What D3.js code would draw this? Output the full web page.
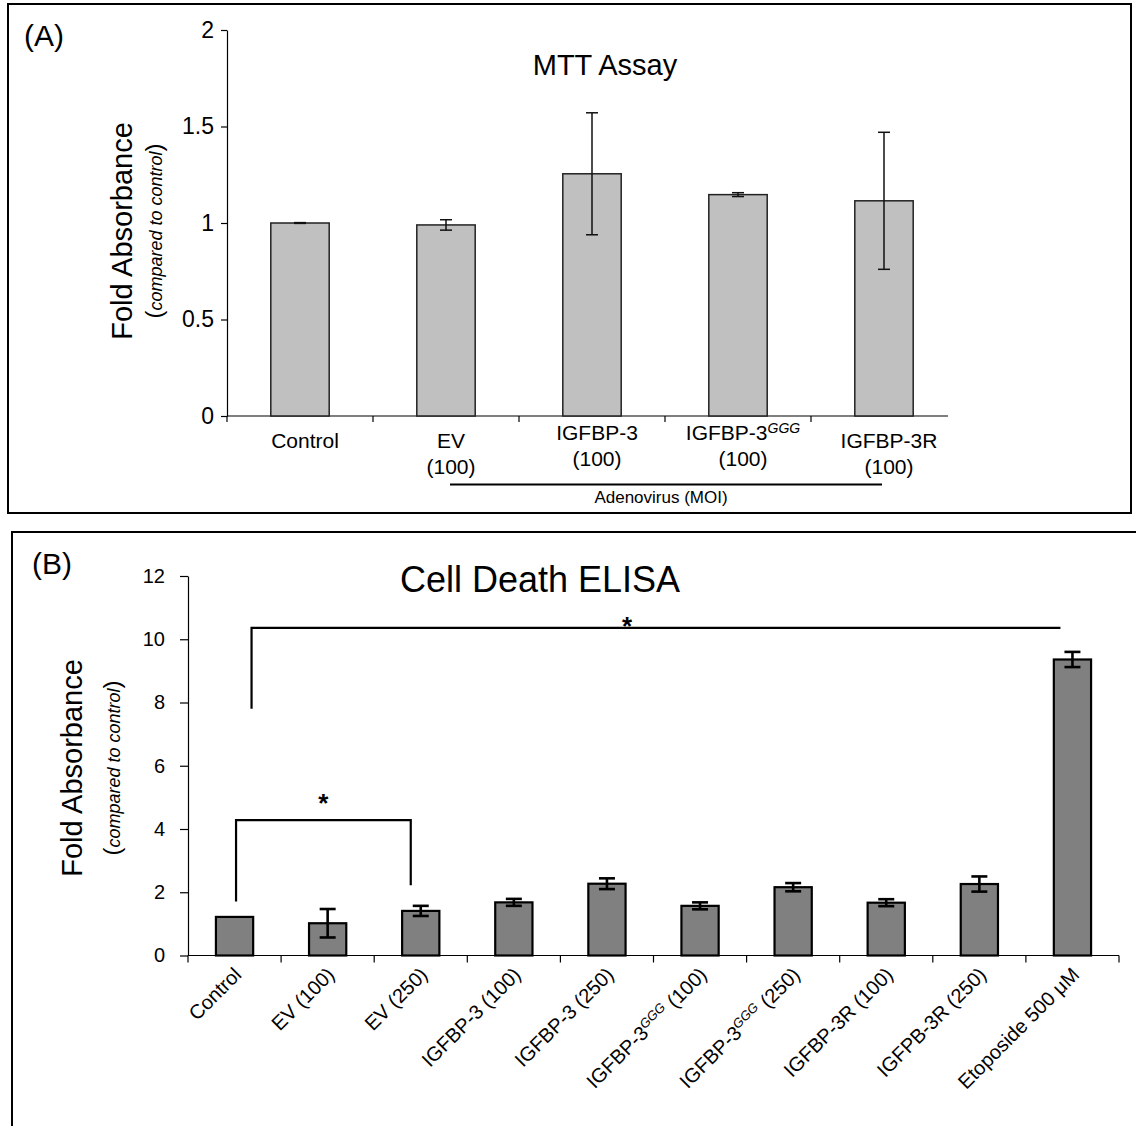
<!DOCTYPE html>
<html>
<head>
<meta charset="utf-8">
<script src="https://cdn.jsdelivr.net/npm/d3@7"></script>
<style>
  body { margin: 0; background: #fff; }
  svg text { fill: #000; }
</style>
</head>
<body>
<svg id="chart" width="1136" height="1126"></svg>
<script>
// ---- MTT assay (panel A) ----
const mttGroups  = ["Control", "EV", "IGFBP-3", "IGFBP-3", "IGFBP-3R"];
const mttSup     = ["", "", "", "GGG", ""];
const mttDose    = ["", "(100)", "(100)", "(100)", "(100)"];
const mttMean    = [1.0, 0.99, 1.255, 1.147, 1.115];
const mttErr     = [0.002, 0.027, 0.316, 0.01, 0.355];
const mttTicks   = [0, 0.5, 1, 1.5, 2];

// ---- Cell death ELISA (panel B) ----
const elisaGroups = ["Control", "EV", "EV", "IGFBP-3", "IGFBP-3", "IGFBP-3", "IGFBP-3", "IGFBP-3R", "IGFPB-3R", "Etoposide 500 \u03BCM"];
const elisaSup    = ["", "", "", "", "", "GGG", "GGG", "", "", ""];
const elisaDose   = ["", "(100)", "(250)", "(100)", "(250)", "(100)", "(250)", "(100)", "(250)", ""];
const elisaMean   = [1.22, 1.02, 1.41, 1.68, 2.27, 1.57, 2.16, 1.67, 2.26, 9.36];
const elisaErr    = [0, 0.45, 0.16, 0.11, 0.17, 0.11, 0.13, 0.11, 0.24, 0.24];
const elisaTicks  = [0, 2, 4, 6, 8, 10, 12];
// significance brackets: group indices, bracket height, and where each leg stops
const elisaSigFrom   = [0, 0];
const elisaSigTo     = [2, 9];
const elisaSigTop    = [4.28, 10.36];
const elisaSigLegL   = [1.71, 7.8];
const elisaSigLegR   = [2.22, null];

const FONT = "'Liberation Sans', Arial, Helvetica, sans-serif";
const svg = d3.select("#chart");

function styleAxis(g, size) {
  g.attr("font-family", FONT).attr("font-size", size);
  g.selectAll("line, path").attr("stroke", "#000").attr("stroke-width", 1.2);
  g.selectAll("text").attr("fill", "#000");
}

function axisTitle(parent, cx, cy, size) {
  parent.append("text")
    .attr("transform", `translate(${cx},${cy}) rotate(-90)`)
    .attr("text-anchor", "middle")
    .attr("font-family", FONT).attr("font-size", size)
    .text("Fold Absorbance");
}

function axisSubtitle(parent, cx, cy) {
  const t = parent.append("text")
    .attr("transform", `translate(${cx},${cy}) rotate(-90)`)
    .attr("text-anchor", "middle")
    .attr("font-family", FONT);
  t.append("tspan").attr("font-size", 24).text("(");
  t.append("tspan").attr("font-size", 18).attr("font-style", "italic").text("compared to control");
  t.append("tspan").attr("font-size", 24).text(")");
}

// ================= Panel A =================
svg.append("rect")
  .attr("x", 8).attr("y", 4).attr("width", 1123).attr("height", 509)
  .attr("fill", "none").attr("stroke", "#000").attr("stroke-width", 2);

const gA = svg.append("g");
const xA = d3.scaleBand().domain(d3.range(mttGroups.length))
  .range([227, 957]).paddingInner(0.6).paddingOuter(0.3);
const yA = d3.scaleLinear().domain([0, 2]).range([416, 30]);

gA.append("g").attr("transform", "translate(227,0)")
  .call(d3.axisLeft(yA).tickValues(mttTicks).tickSize(6).tickSizeOuter(0).tickPadding(7)
        .tickFormat(d => String(d)))
  .call(g => styleAxis(g, 23));

// category axis with ticks between groups
const gapA = (xA.step() - xA.bandwidth()) / 2;
gA.append("line")
  .attr("x1", xA.range()[0]).attr("x2", xA.range()[1] - 9)
  .attr("y1", yA(0)).attr("y2", yA(0))
  .attr("stroke", "#000").attr("stroke-width", 1.2);
gA.selectAll(".tickA").data(xA.domain()).join("line")
  .attr("x1", i => xA(i) - gapA).attr("x2", i => xA(i) - gapA)
  .attr("y1", yA(0)).attr("y2", yA(0) + 6)
  .attr("stroke", "#000").attr("stroke-width", 1.2);

gA.selectAll(".barA").data(mttMean).join("rect")
  .attr("x", (d, i) => xA(i)).attr("width", xA.bandwidth())
  .attr("y", d => yA(d)).attr("height", d => yA(0) - yA(d))
  .attr("fill", "#c0c0c0").attr("stroke", "#222").attr("stroke-width", 1.5);

mttMean.forEach((m, i) => {
  const cx = xA(i) + xA.bandwidth() / 2, e = mttErr[i], cap = 6;
  const g = gA.append("g").attr("stroke", "#111").attr("stroke-width", 1.5);
  g.append("line").attr("x1", cx).attr("x2", cx).attr("y1", yA(m + e)).attr("y2", yA(m - e));
  g.append("line").attr("x1", cx - cap).attr("x2", cx + cap).attr("y1", yA(m + e)).attr("y2", yA(m + e));
  g.append("line").attr("x1", cx - cap).attr("x2", cx + cap).attr("y1", yA(m - e)).attr("y2", yA(m - e));
});

// category labels (middle groups sit a little higher)
mttGroups.forEach((name, i) => {
  const cx = xA(i) + xA.bandwidth() / 2 + 5;
  const base = (i === 2 || i === 3) ? 440 : 448;
  const t = gA.append("text").attr("x", cx).attr("y", base)
    .attr("text-anchor", "middle").attr("font-family", FONT).attr("font-size", 21);
  t.append("tspan").text(name);
  if (mttSup[i]) {
    t.append("tspan").attr("font-size", 14).attr("font-style", "italic")
      .attr("dy", -7).text(mttSup[i]);
  }
  if (mttDose[i]) {
    gA.append("text").attr("x", cx).attr("y", base + 26)
      .attr("text-anchor", "middle").attr("font-family", FONT).attr("font-size", 21)
      .text(mttDose[i]);
  }
});

gA.append("line").attr("x1", 450).attr("x2", 882).attr("y1", 484.5).attr("y2", 484.5)
  .attr("stroke", "#000").attr("stroke-width", 2);
gA.append("text").attr("x", 661).attr("y", 503).attr("text-anchor", "middle")
  .attr("font-family", FONT).attr("font-size", 17).text("Adenovirus (MOI)");

gA.append("text").attr("x", 605).attr("y", 75).attr("text-anchor", "middle")
  .attr("font-family", FONT).attr("font-size", 29).text("MTT Assay");
gA.append("text").attr("x", 24).attr("y", 46)
  .attr("font-family", FONT).attr("font-size", 30).text("(A)");
axisTitle(gA, 132, 231, 29);
axisSubtitle(gA, 162, 231);

// ================= Panel B =================
svg.append("rect")
  .attr("x", 12).attr("y", 532).attr("width", 1200).attr("height", 700)
  .attr("fill", "none").attr("stroke", "#000").attr("stroke-width", 2);

const gB = svg.append("g");
const xB = d3.scaleBand().domain(d3.range(elisaGroups.length))
  .range([188, 1119]).paddingInner(0.6).paddingOuter(0.3);
const yB = d3.scaleLinear().domain([0, 12]).range([955.5, 576]);

gB.append("g").attr("transform", "translate(188,0)")
  .call(d3.axisLeft(yB).tickValues(elisaTicks).tickSize(8).tickSizeOuter(0).tickPadding(15))
  .call(g => styleAxis(g, 20));

gB.append("line")
  .attr("x1", xB.range()[0]).attr("x2", xB.range()[1])
  .attr("y1", yB(0)).attr("y2", yB(0))
  .attr("stroke", "#000").attr("stroke-width", 1.2);
gB.selectAll(".tickB").data(d3.range(elisaGroups.length + 1)).join("line")
  .attr("x1", i => xB.range()[0] + i * xB.step()).attr("x2", i => xB.range()[0] + i * xB.step())
  .attr("y1", yB(0)).attr("y2", yB(0) + 7)
  .attr("stroke", "#000").attr("stroke-width", 1.2);

gB.selectAll(".barB").data(elisaMean).join("rect")
  .attr("x", (d, i) => xB(i)).attr("width", xB.bandwidth())
  .attr("y", d => yB(d)).attr("height", d => yB(0) - yB(d))
  .attr("fill", "#808080").attr("stroke", "#000").attr("stroke-width", 2.2);

elisaMean.forEach((m, i) => {
  const e = elisaErr[i];
  if (!e) return;
  const cx = xB(i) + xB.bandwidth() / 2, cap = 8;
  const g = gB.append("g").attr("stroke", "#000").attr("stroke-width", 2.6);
  g.append("line").attr("x1", cx).attr("x2", cx).attr("y1", yB(m + e)).attr("y2", yB(m - e));
  g.append("line").attr("x1", cx - cap).attr("x2", cx + cap).attr("y1", yB(m + e)).attr("y2", yB(m + e));
  g.append("line").attr("x1", cx - cap).attr("x2", cx + cap).attr("y1", yB(m - e)).attr("y2", yB(m - e));
});

// significance brackets
const centerB = i => xB(i) + xB.bandwidth() / 2;
const legOffsetL = [1.5, 17];
const legOffsetR = [-10, -12];
const starShift  = [0, -29];
elisaSigFrom.forEach((from, k) => {
  const xl = centerB(from) + legOffsetL[k];
  const xr = centerB(elisaSigTo[k]) + legOffsetR[k];
  const yt = yB(elisaSigTop[k]);
  let d = `M${xl},${yB(elisaSigLegL[k])}V${yt}H${xr}`;
  if (elisaSigLegR[k] !== null) d += `V${yB(elisaSigLegR[k])}`;
  gB.append("path").attr("d", d).attr("fill", "none")
    .attr("stroke", "#000").attr("stroke-width", 2.2);
  gB.append("text").attr("x", (xl + xr) / 2 + starShift[k]).attr("y", yt + (k === 0 ? -8 : 7))
    .attr("text-anchor", "middle").attr("font-family", FONT)
    .attr("font-size", 26).attr("font-weight", "bold").text("*");
});

// rotated category labels
elisaGroups.forEach((name, i) => {
  const cx = centerB(i) + 8;
  const t = gB.append("text")
    .attr("transform", `translate(${cx},976) rotate(-45)`)
    .attr("text-anchor", "end").attr("font-family", FONT).attr("font-size", 20);
  t.append("tspan").text(name);
  if (elisaSup[i]) {
    t.append("tspan").attr("font-size", 13).attr("font-style", "italic").attr("dy", -7).text(elisaSup[i]);
    t.append("tspan").attr("dy", 7).text(" " + elisaDose[i]);
  } else if (elisaDose[i]) {
    t.append("tspan").text(" " + elisaDose[i]);
  }
});

gB.append("text").attr("x", 540).attr("y", 592).attr("text-anchor", "middle")
  .attr("font-family", FONT).attr("font-size", 36).text("Cell Death ELISA");
gB.append("text").attr("x", 32).attr("y", 574)
  .attr("font-family", FONT).attr("font-size", 30).text("(B)");
axisTitle(gB, 82, 768, 29);
axisSubtitle(gB, 120, 768);
</script>
</body>
</html>
